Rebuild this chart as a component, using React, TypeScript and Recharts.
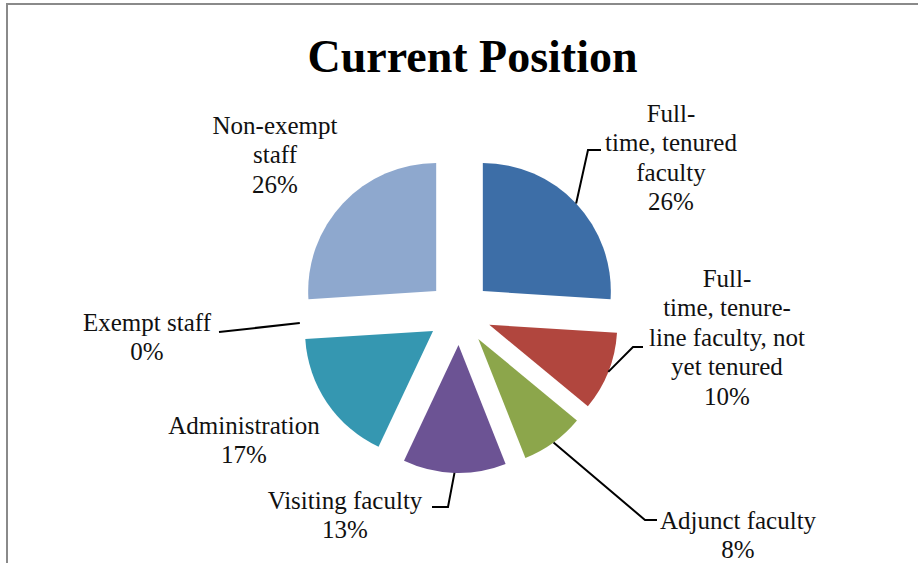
import { PieChart, Pie, Cell } from 'recharts';

const CATEGORIES = [
  'Full-time, tenured faculty',
  'Full-time, tenure-line faculty, not yet tenured',
  'Adjunct faculty',
  'Visiting faculty',
  'Administration',
  'Exempt staff',
  'Non-exempt staff',
];
const SHARES = [26, 10, 8, 13, 17, 0, 26];
const COLORS = ['#3D6EA7', '#B1463E', '#8CA64B', '#6C5394', '#3597B1', '#E8893C', '#8EA8CE'];

// how the labels got wrapped in the original
const LABEL_LINES = [
  ['Full-', 'time, tenured', 'faculty'],
  ['Full-', 'time, tenure-', 'line faculty, not', 'yet tenured'],
  ['Adjunct faculty'],
  ['Visiting faculty'],
  ['Administration'],
  ['Exempt staff'],
  ['Non-exempt', 'staff'],
];

const CX = 459.5;
const CY = 313;
const RADIUS = 128;
const EXPLODE = 32; // every slice pulled out by the same amount
const LINE_H = 29.5;
const RAD = Math.PI / 180;

// label block centre (x, first line y) + leader elbow / tail, page px
const LABEL_LAYOUT: { x: number; y: number; elbow?: [number, number]; tail?: number }[] = [
  { x: 671, y: 113, elbow: [588, 150], tail: 601 },
  { x: 727, y: 278, elbow: [633, 347], tail: 643 },
  { x: 738, y: 520, elbow: [645, 520], tail: 657 },
  { x: 345, y: 500, elbow: [448, 507], tail: 432 },
  { x: 244, y: 425 },
  { x: 147, y: 322, elbow: [219, 332] },
  { x: 275, y: 125 },
];

const data = CATEGORIES.map((name, i) => ({ name, value: SHARES[i] }));

// mid angle of each slice (recharts degrees, counter-clockwise from 3 o'clock)
const total = SHARES.reduce((a, b) => a + b, 0);
const midAngles: number[] = [];
{
  let start = 90;
  SHARES.forEach((v) => {
    const sweep = (v / total) * 360;
    midAngles.push(start - sweep / 2);
    start -= sweep;
  });
}

const renderLabel = (props: any) => {
  const { cx, cy, midAngle, outerRadius, index, value } = props;
  const lay = LABEL_LAYOUT[index];
  const lines = [...LABEL_LINES[index], `${value}%`];
  const cos = Math.cos(-midAngle * RAD);
  const sin = Math.sin(-midAngle * RAD);
  const sx = cx + (outerRadius + EXPLODE) * cos;
  const sy = cy + (outerRadius + EXPLODE) * sin;
  let pts = '';
  if (lay.elbow) {
    pts = `${sx},${sy} ${lay.elbow[0]},${lay.elbow[1]}`;
    if (lay.tail != null) pts += ` ${lay.tail},${lay.elbow[1]}`;
  }
  return (
    <g key={`lbl-${index}`}>
      {pts && <polyline points={pts} fill="none" stroke="#000" strokeWidth={2} />}
      <text
        x={lay.x}
        y={lay.y}
        textAnchor="middle"
        fontFamily='"Liberation Serif", "Times New Roman", serif'
        fontSize={25}
        fill="#111"
      >
        {lines.map((t, k) => (
          <tspan key={k} x={lay.x} y={lay.y + k * LINE_H} dominantBaseline="central">
            {t}
          </tspan>
        ))}
      </text>
    </g>
  );
};

export default function App() {
  return (
    <div style={{ position: 'fixed', left: 0, top: 0, width: 918, height: 563, background: '#fff', overflow: 'hidden' }}>
      <div
        style={{
          position: 'absolute', left: 6, top: 3, width: 912, height: 560,
          borderTop: '2px solid #8a8a8a', borderLeft: '2px solid #8a8a8a', boxSizing: 'border-box',
        }}
      />
      <div
        style={{
          position: 'absolute', left: 0, width: 945, top: 34, textAlign: 'center',
          fontFamily: '"Liberation Serif", "Times New Roman", serif', fontWeight: 'bold',
          fontSize: 46, lineHeight: '46px', color: '#000',
        }}
      >
        Current Position
      </div>
      <PieChart width={918} height={563} margin={{ top: 0, right: 0, bottom: 0, left: 0 }} style={{ position: 'absolute', left: 0, top: 0 }}>
        <Pie
          data={data}
          dataKey="value"
          nameKey="name"
          cx={CX}
          cy={CY}
          outerRadius={RADIUS}
          startAngle={90}
          endAngle={-270}
          stroke="none"
          label={renderLabel}
          labelLine={false}
          isAnimationActive={false}
        >
          {data.map((d, i) => (
            <Cell
              key={d.name}
              fill={COLORS[i]}
              transform={`translate(${EXPLODE * Math.cos(-midAngles[i] * RAD)}, ${EXPLODE * Math.sin(-midAngles[i] * RAD)})`}
            />
          ))}
        </Pie>
      </PieChart>
    </div>
  );
}
